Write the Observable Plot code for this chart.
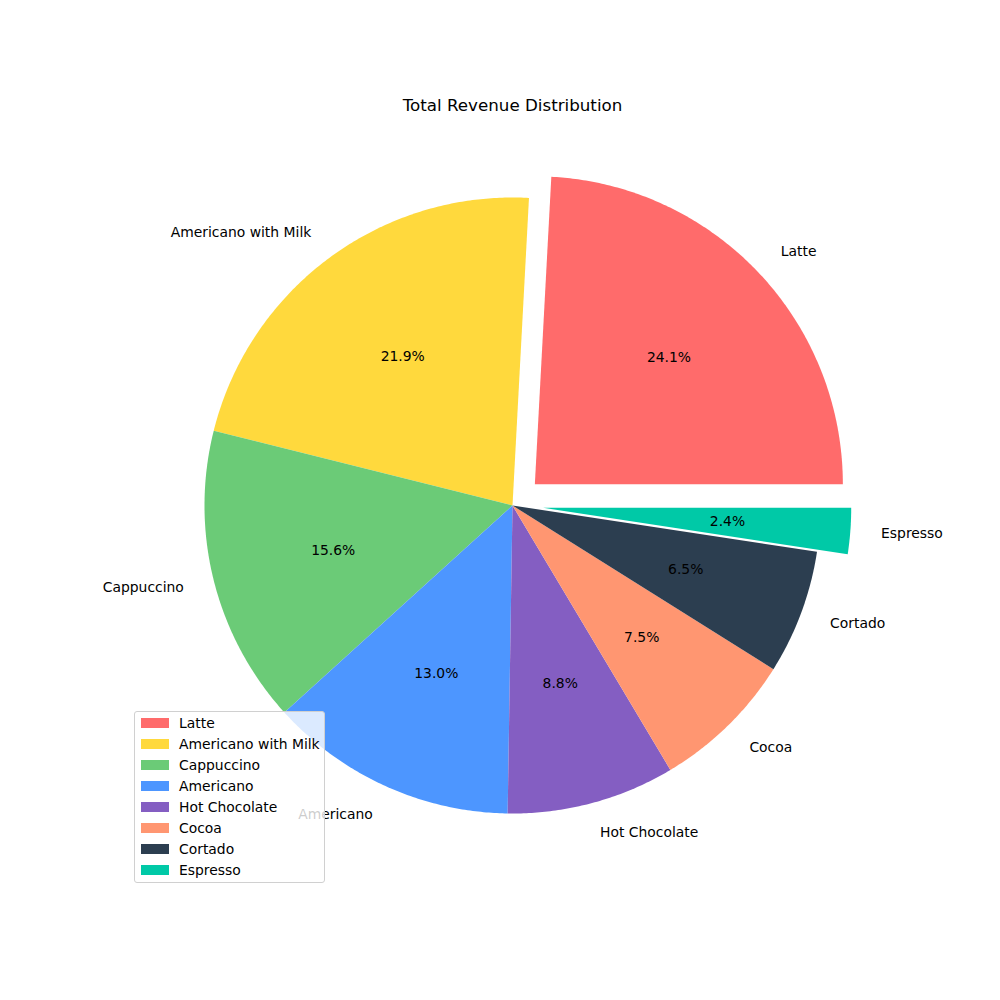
<!DOCTYPE html>
<html>
<head>
<meta charset="utf-8">
<script src="https://cdn.jsdelivr.net/npm/d3@7"></script>
<script src="https://cdn.jsdelivr.net/npm/@observablehq/plot@0.6"></script>
<style>
  html, body { margin: 0; padding: 0; background: #fff; }
  #wrap { position: relative; width: 1000px; height: 1000px; font-family: "DejaVu Sans", sans-serif; }
  #legend { position: absolute; left: 134px; top: 711px; width: 189px; height: 170px;
    border: 1px solid #d0d0d0; border-radius: 3px; background: rgba(255,255,255,0.8); }
  .lrow { position: absolute; left: 0; height: 21px; width: 100%; }
  .lsw { position: absolute; left: 6px; width: 28px; height: 10px; }
  .ltx { position: absolute; left: 44px; font-size: 13.9px; color: #000; white-space: nowrap; line-height: 16px; }
</style>
</head>
<body>
<div id="wrap"></div>
<script>
// ---- data ----
const title = "Total Revenue Distribution";
const products = ["Latte", "Americano with Milk", "Cappuccino", "Americano", "Hot Chocolate", "Cocoa", "Cortado", "Espresso"];
const shares = [24.1, 21.9, 15.6, 13.0, 8.8, 7.5, 6.5, 2.4];
const colors = ["#ff6b6b", "#ffd93d", "#6bcb77", "#4d96ff", "#845ec2", "#ff9671", "#2c3e50", "#00c9a7"];
const explode = [0.1, 0, 0, 0, 0, 0, 0, 0.1];

// ---- geometry (matplotlib-style pie: start at 0 rad, counterclockwise) ----
const total = d3.sum(shares);
let cum = 0;
const slices = products.map((name, i) => {
  const a0 = cum / total * 2 * Math.PI;
  cum += shares[i];
  const a1 = cum / total * 2 * Math.PI;
  const mid = (a0 + a1) / 2;
  const cx = explode[i] * Math.cos(mid), cy = explode[i] * Math.sin(mid);
  return {name, value: shares[i], a0, a1, mid, cx, cy};
});
const polyPts = [];
for (const s of slices) {
  polyPts.push({name: s.name, x: s.cx, y: s.cy});
  const n = Math.max(2, Math.ceil((s.a1 - s.a0) / (Math.PI / 360)));
  for (let k = 0; k <= n; k++) {
    const a = s.a0 + (s.a1 - s.a0) * k / n;
    polyPts.push({name: s.name, x: s.cx + Math.cos(a), y: s.cy + Math.sin(a)});
  }
  polyPts.push({name: s.name, x: s.cx, y: s.cy});
}
const pctPts = slices.map(s => ({label: s.value.toFixed(1) + "%", x: s.cx + 0.6 * Math.cos(s.mid), y: s.cy + 0.6 * Math.sin(s.mid)}));
const lblPts = slices.map(s => ({label: s.name, x: s.cx + 1.1 * Math.cos(s.mid), y: s.cy + 1.1 * Math.sin(s.mid)}));

const font = "DejaVu Sans";
const chart = Plot.plot({
  width: 1000, height: 1000,
  margin: 0,
  style: {fontFamily: font, background: "white"},
  x: {domain: [-1, 1], range: [204, 820], axis: null},
  y: {domain: [-1, 1], range: [813, 197], axis: null},
  color: {domain: products, range: colors},
  marks: [
    Plot.line(polyPts, {x: "x", y: "y", z: "name", fill: "name", stroke: null, curve: "linear"}),
    Plot.text(pctPts, {x: "x", y: "y", text: "label", fontSize: 13.9, fill: "black", textAnchor: "middle"}),
    Plot.text(lblPts.filter(d => d.x >= 0), {x: "x", y: "y", text: "label", fontSize: 13.9, fill: "black", textAnchor: "start"}),
    Plot.text(lblPts.filter(d => d.x < 0), {x: "x", y: "y", text: "label", fontSize: 13.9, fill: "black", textAnchor: "end"}),
    Plot.text([title], {x: () => 0, y: () => 1.2987, text: d => d, fontSize: 16.7, fill: "black", textAnchor: "middle"})
  ]
});
const wrap = document.getElementById("wrap");
wrap.appendChild(chart);

// ---- legend ----
const leg = d3.select(wrap).append("div").attr("id", "legend");
products.forEach((p, i) => {
  const row = leg.append("div").attr("class", "lrow").style("top", (2 + i * 21) + "px");
  row.append("div").attr("class", "lsw").style("top", "4px").style("background", colors[i]);
  row.append("div").attr("class", "ltx").style("top", "1px").text(p);
});
</script>
</body>
</html>
